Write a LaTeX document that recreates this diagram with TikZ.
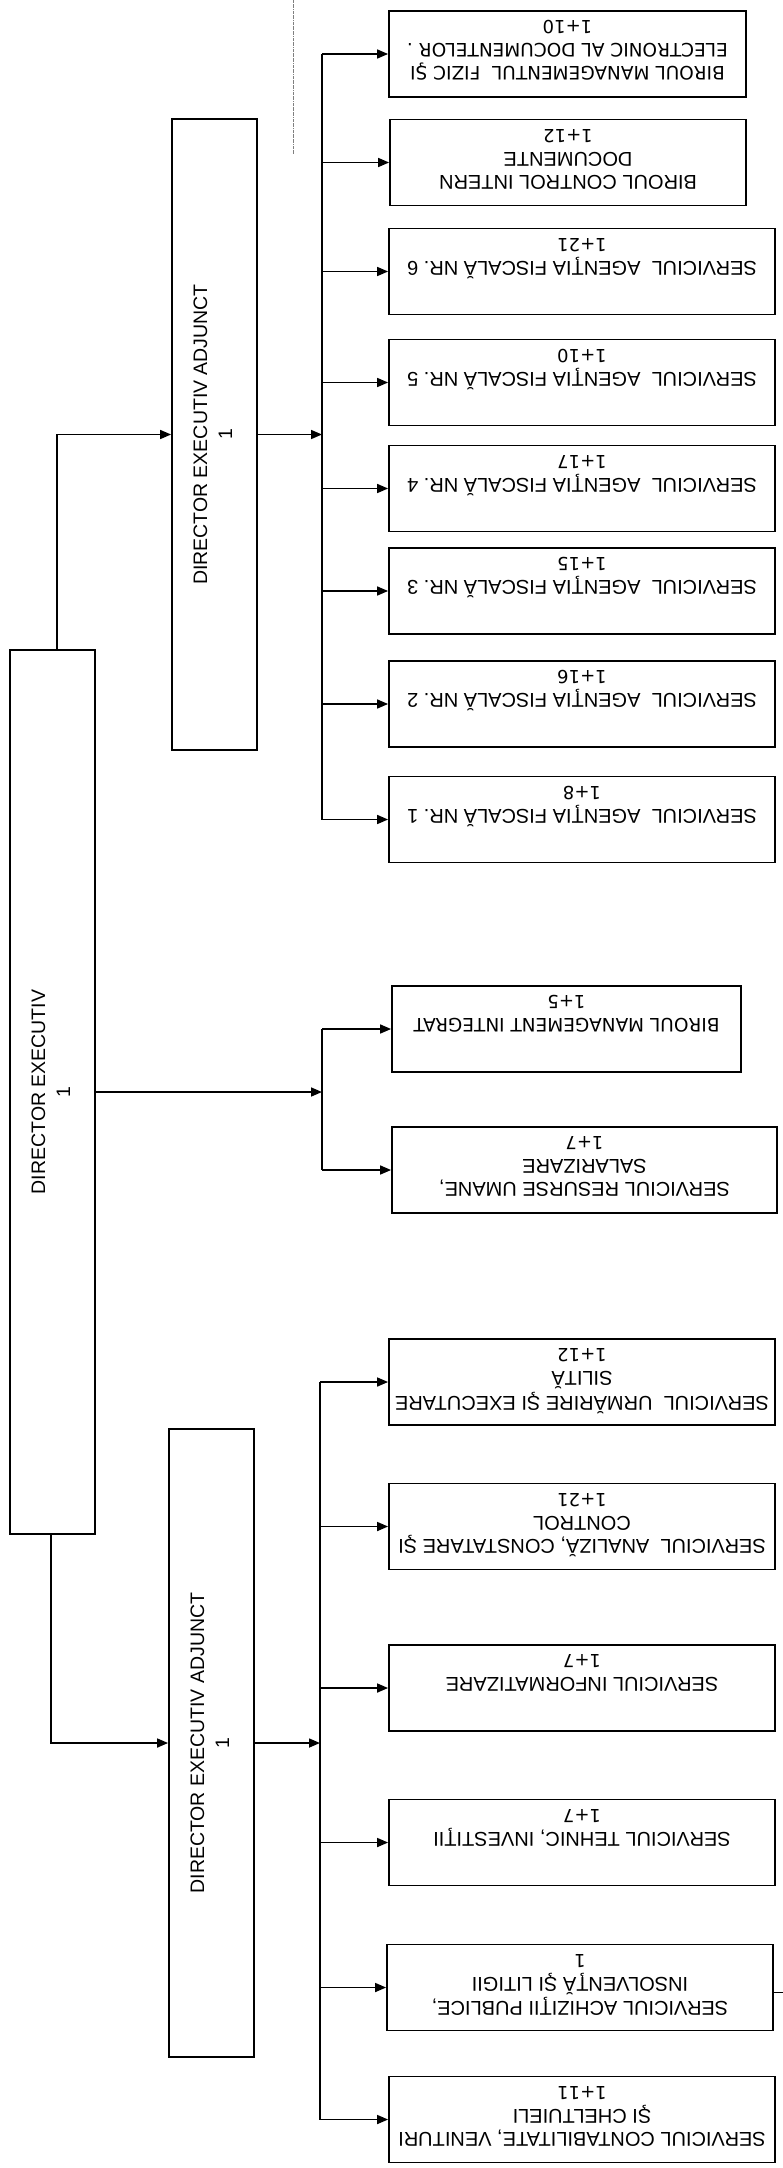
\documentclass[tikz,border=0pt]{standalone}
\usepackage{fontspec}
\setmainfont{Liberation Sans}
\newfontfamily\vf{DejaVu Sans}
\usetikzlibrary{arrows.meta}
\newcommand{\flip}[1]{\rotatebox{180}{\vbox to 80pt{\vfill\hbox{\begin{tabular}{@{}c@{}}#1\end{tabular}}\kern0pt}}}
\newcommand{\nr}[1]{{\vf\fontsize{18}{23}\selectfont #1}}
\newcommand{\vt}[1]{{\vf\fontsize{18.5}{23}\selectfont #1}}
\tikzset{
    unit/.style={draw, line width=1.8pt, minimum width=386pt, minimum height=86pt, inner xsep=6pt, inner ysep=3pt, font=\fontsize{20}{23}\selectfont},
    head/.style={draw, line width=1.8pt, minimum width=85pt, inner sep=0pt, font=\fontsize{19.5}{25}\selectfont},
    arr/.style={-{Triangle[length=11pt,width=9pt]}, line width=1.6pt},
    link/.style={line width=1.6pt}
}
\begin{document}
\begin{tikzpicture}[x=1pt,y=-1pt]
        \useasboundingbox (0,0) rectangle (783,2168);
        \node[head, minimum height=884pt] (dir) at (52.5,1092) {\rotatebox{90}{\begin{tabular}{c}DIRECTOR EXECUTIV\\1\end{tabular}}};
        \node[head, minimum height=631pt] (adj1) at (214.5,434.5) {\rotatebox{90}{\begin{tabular}{c}DIRECTOR EXECUTIV ADJUNCT\\1\end{tabular}}};
        \node[head, minimum height=628pt] (adj2) at (211.5,1743) {\rotatebox{90}{\begin{tabular}{c}DIRECTOR EXECUTIV ADJUNCT\\1\end{tabular}}};
        \node[unit, minimum width=357pt] (bmfe) at (567.5,54) {\flip{\vt{BIROUL MANAGEMENTUL~ FIZIC ŞI}\\\vt{ELECTRONIC AL DOCUMENTELOR .}\\\nr{1+10}}};
        \node[unit, minimum width=356pt] (bci) at (568,162.5) {\flip{BIROUL CONTROL INTERN\\DOCUMENTE\\\nr{1+12}}};
        \node[unit] (ag6) at (582,271.5) {\flip{SERVICIUL~ AGENŢIA FISCALĂ NR. 6\\\nr{1+21}}};
        \node[unit] (ag5) at (582,382.5) {\flip{SERVICIUL~ AGENŢIA FISCALĂ NR. 5\\\nr{1+10}}};
        \node[unit] (ag4) at (582,488.5) {\flip{SERVICIUL~ AGENŢIA FISCALĂ NR. 4\\\nr{1+17}}};
        \node[unit] (ag3) at (582,591) {\flip{SERVICIUL~ AGENŢIA FISCALĂ NR. 3\\\nr{1+15}}};
        \node[unit] (ag2) at (582,704) {\flip{SERVICIUL~ AGENŢIA FISCALĂ NR. 2\\\nr{1+16}}};
        \node[unit] (ag1) at (582,819.5) {\flip{SERVICIUL~ AGENŢIA FISCALĂ NR. 1\\\nr{1+8}}};
        \node[unit, minimum width=349pt] (bmi) at (566.5,1029) {\flip{\vt{BIROUL MANAGEMENT INTEGRAT}\\\nr{1+5}}};
        \node[unit, minimum width=385pt] (sru) at (584.5,1170) {\flip{SERVICIUL RESURSE UMANE,\\SALARIZARE\\\nr{1+7}}};
        \node[unit] (sues) at (582,1382) {\flip{SERVICIUL~ URMĂRIRE ŞI EXECUTARE\\SILITĂ\\\nr{1+12}}};
        \node[unit] (sacc) at (582,1526.5) {\flip{SERVICIUL~ ANALIZĂ, CONSTATARE ŞI\\CONTROL\\\nr{1+21}}};
        \node[unit] (sinf) at (582,1688) {\flip{SERVICIUL INFORMATIZARE\\\nr{1+7}}};
        \node[unit] (steh) at (582,1842.5) {\flip{SERVICIUL TEHNIC, INVESTIŢII\\\nr{1+7}}};
        \node[unit] (sach) at (580,1987.5) {\flip{SERVICIUL ACHIZIŢII PUBLICE,\\INSOLVENŢĂ ŞI LITIGII\\\nr{1}}};
        \node[unit] (scvc) at (582,2119.5) {\flip{SERVICIUL CONTABILITATE, VENITURI\\ŞI CHELTUIELI\\\nr{1+11}}};
        \coordinate (top) at (322,0);
        \coordinate (mid) at (322,0);
        \coordinate (low) at (320,0);
        \draw[arr] ([xshift=4.5pt]dir.north) |- (adj1.west);
        \draw[arr] ([xshift=-1.5pt]dir.south) |- (adj2.west);
        \draw[arr] (dir.east) -- (dir.east -| mid);
        \draw[arr] (adj1.east) -- (adj1.east -| top);
        \draw[arr] (adj2.east) -- (adj2.east -| low);
        \draw[link] (top |- bmfe.west) -- (top |- ag1.west)
                    (mid |- bmi.west) -- (mid |- sru.west)
                    (low |- sues.west) -- (low |- scvc.west);
        \foreach \b in {bmfe,bci,ag6,ag5,ag4,ag3,ag2,ag1}
            \draw[arr] (top |- \b.west) -- (\b.west);
        \foreach \b in {bmi,sru}
            \draw[arr] (mid |- \b.west) -- (\b.west);
        \foreach \b in {sues,sacc,sinf,steh,sach,scvc}
            \draw[arr] (low |- \b.west) -- (\b.west);
        \draw[link] ([yshift=-5pt]sach.east) -- ++(12,0);
        \draw[densely dash dot, line width=0.8pt, gray] (293,0) -- (293,155);
    \end{tikzpicture}
\end{document}
